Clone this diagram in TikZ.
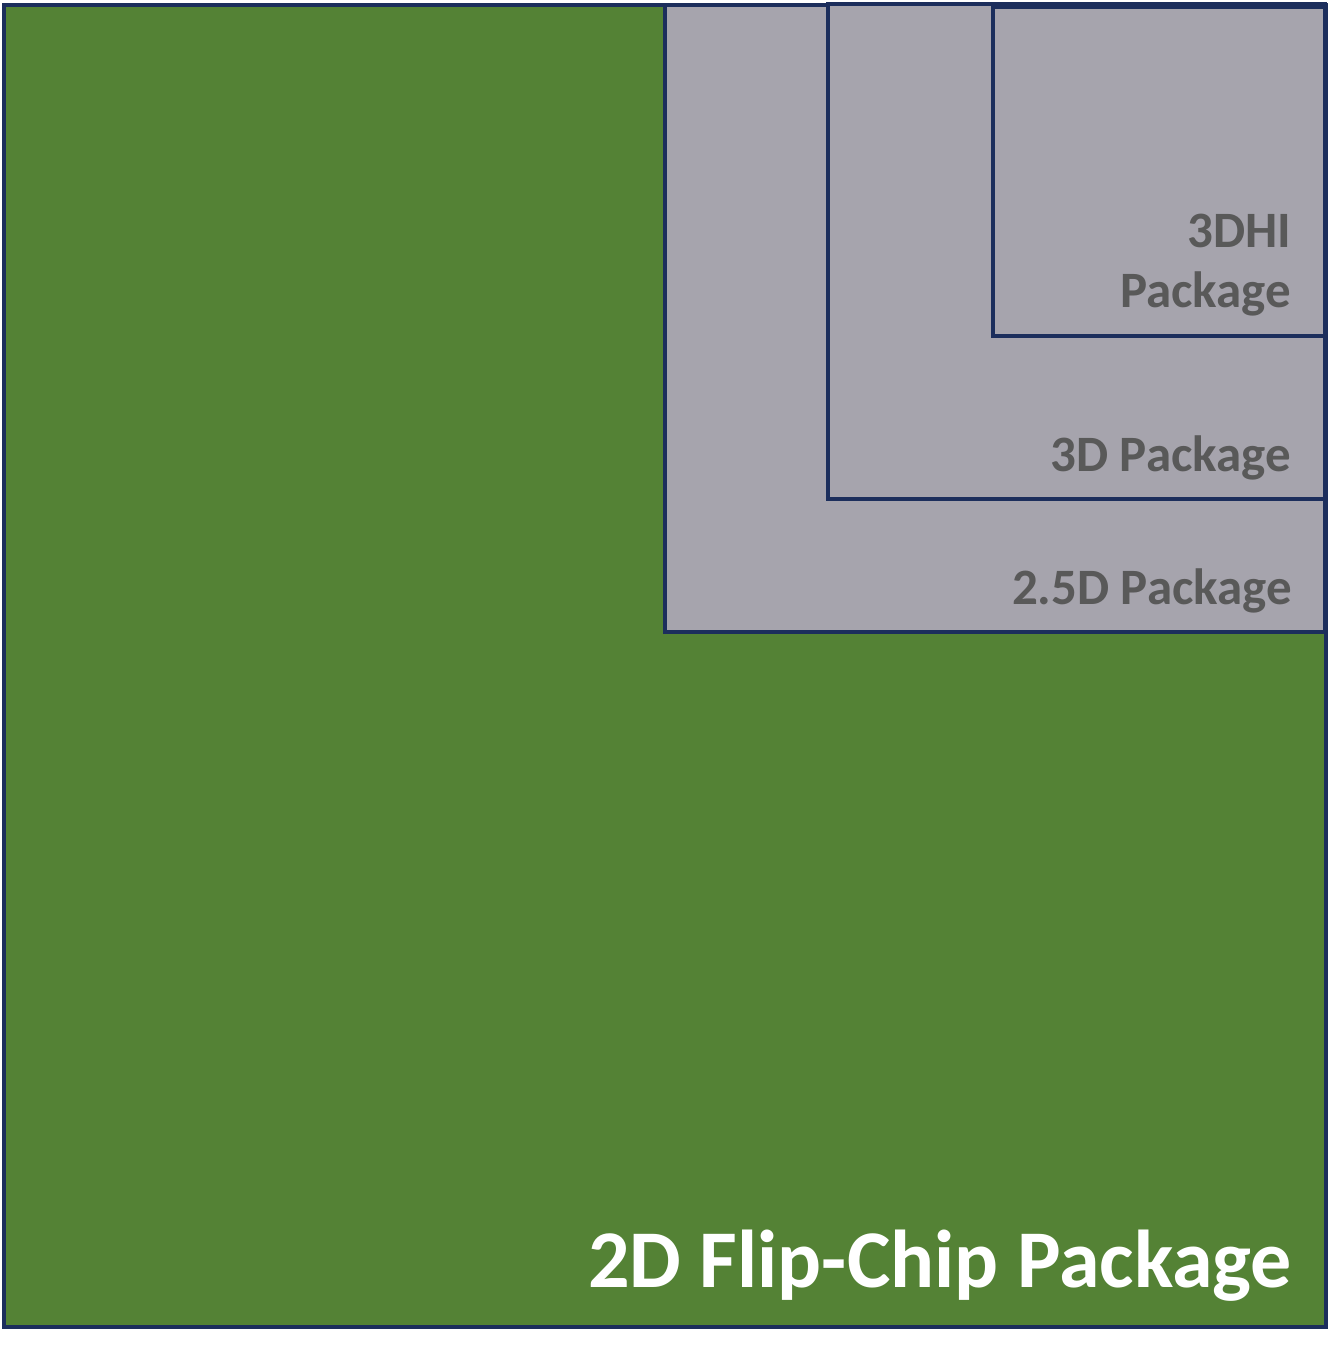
\documentclass[tikz,border=0pt]{standalone}
\usepackage{fontspec}
\setmainfont{Carlito}
\definecolor{pkggreen}{HTML}{548235}
\definecolor{pkggray}{HTML}{A6A4AD}
\definecolor{pkgline}{HTML}{1C2E5C}
\definecolor{pkgtext}{HTML}{595959}
\begin{document}
\begin{tikzpicture}[x=1pt, y=-1pt, line width=4pt]
\tikzset{
  pkgbox/.style={draw=pkgline, fill=pkggray},
  smalllabel/.style={anchor=base east, inner sep=0pt, text=pkgtext, font=\fontsize{51}{61}\selectfont\bfseries, align=right},
  biglabel/.style={anchor=base east, inner sep=0pt, text=white, font=\fontsize{82}{98}\selectfont\bfseries}
}
\useasboundingbox (0,0) rectangle (1342,1360);
\draw[draw=pkgline, fill=pkggreen] (4,5) rectangle (1326,1327);
\draw[pkgbox] (665,5) rectangle (1325,632);
\draw[pkgbox] (828,4) rectangle (1325,499);
\draw[pkgbox] (993,7) rectangle (1325,336);
\node[smalllabel] (hi) at (1293,247) {3DHI};
\node[smalllabel] (hipkg) at (1293,307) {Package};
\node[smalllabel] (threed) at (1293,471) {3D Package};
\node[smalllabel] (twofive) at (1294,604) {2.5D Package};
\node[biglabel] (flip) at (1294,1287) {2D Flip-Chip Package};
\end{tikzpicture}
\end{document}
